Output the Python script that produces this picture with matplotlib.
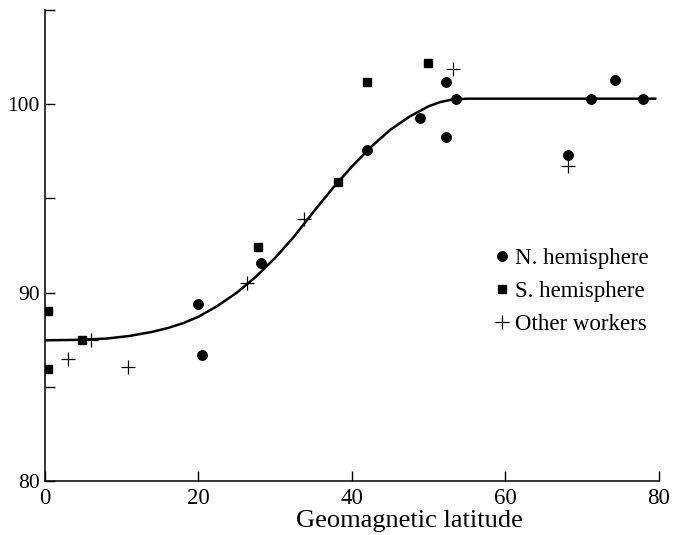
import matplotlib
matplotlib.use("Agg")
import matplotlib.pyplot as plt
from matplotlib.ticker import FixedLocator

plt.rcParams['font.family'] = ['Liberation Serif', 'DejaVu Serif']

# fitted curve, read at a set of latitudes
curve_lat = [0, 4, 8, 11, 14, 16, 18, 20, 22.5, 25, 27.5, 30, 32.5, 35, 37.5,
             40, 42.5, 45, 47.5, 50, 51.5, 53, 55, 60, 70, 79.5]
curve_val = [87.47, 87.49, 87.56, 87.7, 87.92, 88.12, 88.38, 88.72, 89.3,
             90.0, 90.85, 91.85, 93.0, 94.3, 95.55, 96.7, 97.75, 98.65, 99.35,
             99.9, 100.12, 100.25, 100.3, 100.3, 100.3, 100.3]

# northern hemisphere stations
n_lat = [19.9, 20.4, 28.1, 41.9, 48.8, 52.2, 52.2, 53.5, 68.2, 71.1, 74.3, 77.9]
n_val = [89.4, 86.7, 91.6, 97.6, 99.3, 101.2, 98.25, 100.3, 97.3, 100.3, 101.3, 100.3]

# southern hemisphere stations
s_lat = [0.4, 0.4, 4.8, 27.7, 38.2, 42.0, 49.9]
s_val = [89.0, 85.95, 87.5, 92.4, 95.9, 101.2, 102.2]

# other workers
o_lat = [3.0, 6.0, 10.8, 26.3, 33.7, 53.1, 68.2]
o_val = [86.5, 87.5, 86.05, 90.5, 93.9, 101.85, 96.75]

fig = plt.figure(figsize=(6.81, 5.35), dpi=100)
ax = fig.add_axes([0.066, 0.101, 0.9017, 0.880])

ax.plot(curve_lat, curve_val, color='black', linewidth=1.8, zorder=2)
ax.plot(n_lat, n_val, 'o', color='black', markersize=6.8, linestyle='none',
        label='N. hemisphere', zorder=3)
ax.plot(s_lat, s_val, 's', color='black', markersize=6.2, linestyle='none',
        label='S. hemisphere', zorder=3)
ax.plot(o_lat, o_val, '+', color='black', markersize=10, markeredgewidth=0.9,
        linestyle='none', label='Other workers', zorder=3)

ax.set_xlim(0, 80)
ax.set_ylim(80, 105)

ax.spines['top'].set_visible(False)
ax.spines['right'].set_visible(False)
for s in ('left', 'bottom'):
    ax.spines[s].set_linewidth(1.1)

ax.set_xticks([0, 20, 40, 60, 80])
ax.set_yticks([80, 90, 100])
ax.yaxis.set_minor_locator(FixedLocator([85, 95, 105]))
ax.tick_params(which='both', direction='in', length=7.5, width=1.0)
ax.tick_params(axis='y', pad=4, labelsize=15.5)
ax.tick_params(axis='x', pad=5, labelsize=16.5)

ax.set_xlabel('Geomagnetic latitude', fontsize=19)
ax.xaxis.set_label_coords(0.594, -0.062)

ax.legend(loc='upper left', bbox_to_anchor=(0.733, 0.494), frameon=False,
          fontsize=16.5, handlelength=0.6, handletextpad=0.28,
          labelspacing=0.52, borderpad=0, borderaxespad=0)

fig.savefig('out.png', dpi=100)
